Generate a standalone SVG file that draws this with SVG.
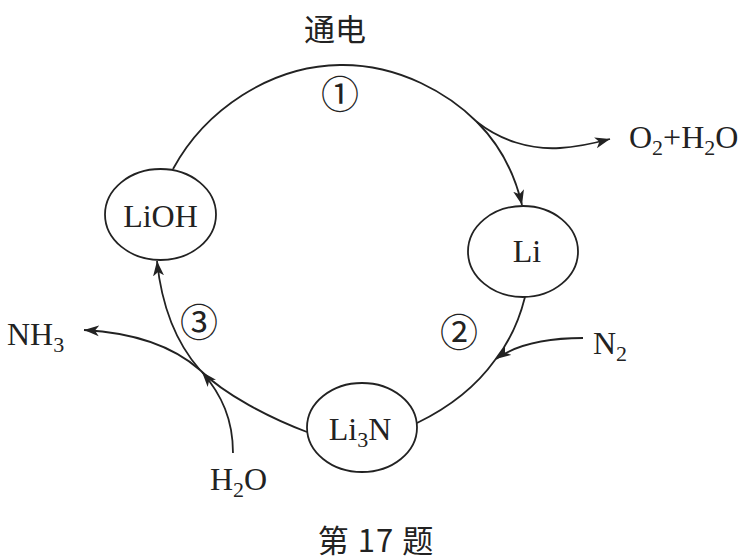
<svg xmlns="http://www.w3.org/2000/svg" width="747" height="560" viewBox="0 0 747 560">
<style>
.node{fill:none;stroke:#222;stroke-width:1.8}
.lbl{font-family:"Liberation Serif","Times New Roman",serif;font-size:32px;fill:#222}
.sub{font-size:22px}
.cjk{font-family:"Noto Sans CJK SC",sans-serif;font-size:31px;fill:#222}
.num{font-family:"Noto Sans CJK SC",sans-serif;font-size:38px;fill:#222}
.edge{fill:none;stroke:#222;stroke-width:1.8}
</style>
<defs>
<marker id="arr" markerUnits="userSpaceOnUse" markerWidth="16" markerHeight="12" refX="15" refY="6" orient="auto">
<path d="M0,0.5 L15,6 L0,11.5 L4,6 z" fill="#222"/>
</marker>
</defs>
<rect width="747" height="560" fill="#fff"/>
<text class="cjk" x="335" y="41" text-anchor="middle">通电</text>
<text class="cjk" x="376" y="552" text-anchor="middle" letter-spacing="1">第 17 题</text>
<g id="connectors">
<path class="edge" d="M173,169 C205,110 270,66 340,65 C400,64 450,95 477,122 C500,145 515,175 522,205" marker-end="url(#arr)"/>
<path class="edge" d="M477,122 C500,140 530,150 560,148 C580,147 595,143 610,139" marker-end="url(#arr)"/>
<path class="edge" d="M525,297 C518,325 507,345 495,360 C475,388 450,407 417,423"/>
<path class="edge" d="M583,338 C555,338 520,342 496,359" marker-end="url(#arr)"/>
<path class="edge" d="M307,432 C270,418 225,395 200,370 C178,345 162,310 157,261" marker-end="url(#arr)"/>
<path class="edge" d="M200,370 C175,348 140,333 84,330" marker-end="url(#arr)"/>
<path class="edge" d="M233,453 C233,420 222,395 202,372" marker-end="url(#arr)"/>
</g>
<g id="step1"><text class="num" x="340" y="108" text-anchor="middle">①</text></g>
<g id="step2"><text class="num" x="459" y="346" text-anchor="middle">②</text></g>
<g id="step3"><text class="num" x="199" y="336" text-anchor="middle">③</text></g>
<g id="LiOH">
<ellipse class="node" cx="160.5" cy="214.5" rx="55.5" ry="45.5"/>
<text class="lbl" x="160.5" y="227" text-anchor="middle">LiOH</text>
</g>
<g id="Li">
<ellipse class="node" cx="523" cy="251.5" rx="55" ry="45.5"/>
<text class="lbl" x="527" y="262" text-anchor="middle">Li</text>
</g>
<g id="Li3N">
<ellipse class="node" cx="362" cy="427.5" rx="55" ry="44.5"/>
<text class="lbl" x="360" y="440" text-anchor="middle">Li<tspan class="sub" dy="7">3</tspan><tspan dy="-7">N</tspan></text>
</g>
<g id="O2H2O">
<text class="lbl" x="629" y="148">O<tspan class="sub" dy="7">2</tspan><tspan dy="-7">+H</tspan><tspan class="sub" dy="7">2</tspan><tspan dy="-7">O</tspan></text>
</g>
<g id="N2">
<text class="lbl" x="593" y="354">N<tspan class="sub" dy="7">2</tspan></text>
</g>
<g id="NH3">
<text class="lbl" x="7" y="345">NH<tspan class="sub" dy="7">3</tspan></text>
</g>
<g id="H2O">
<text class="lbl" x="210" y="490">H<tspan class="sub" dy="7">2</tspan><tspan dy="-7">O</tspan></text>
</g>
</svg>
